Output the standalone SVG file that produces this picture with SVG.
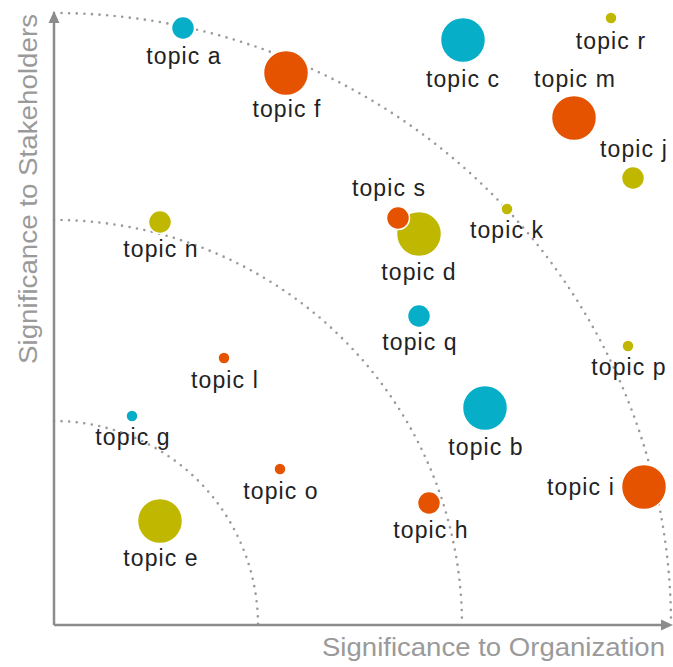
<svg xmlns="http://www.w3.org/2000/svg" width="673" height="667" viewBox="0 0 673 667">
<defs>
<style>
.lbl{font-family:"Liberation Sans",Arial,sans-serif;font-size:23px;fill:#222;text-anchor:middle;letter-spacing:1.1px}
.ax{font-family:"Liberation Sans",Arial,sans-serif;font-size:25px;fill:#9a9a9a}
.arc{fill:none;stroke:#9a9a9a;stroke-width:2.6;stroke-linecap:round;stroke-dasharray:0 7.6}
.axis{stroke:#8c8c8c;stroke-width:2.5;fill:none}
.teal{fill:#07aec8;stroke:#fff;stroke-width:1.5}
.org{fill:#e55300;stroke:#fff;stroke-width:1.5}
.olv{fill:#c0b800;stroke:#fff;stroke-width:1.5}
</style>
</defs>
<rect width="673" height="667" fill="#fff"/>
<g id="connectors">
<path class="arc" d="M 54 13 A 617 612 0 0 1 671 625"/>
<path class="arc" d="M 54 220 A 408 405 0 0 1 462 625"/>
<path class="arc" d="M 54 421 A 204 204 0 0 1 258 625"/>
<path class="axis" d="M 54 625 L 54 22 M 54 625 L 664 625"/>
<polygon points="54,11 48.5,23 59.5,23" fill="#8c8c8c"/>
<polygon points="673,625 661,619.5 661,630.5" fill="#8c8c8c"/>
</g>
<g id="axis-x"><text class="ax" x="322" y="656" textLength="343" lengthAdjust="spacingAndGlyphs">Significance to Organization</text></g>
<g id="axis-y"><text class="ax" transform="translate(37,364) rotate(-90)" x="0" y="0" textLength="350" lengthAdjust="spacingAndGlyphs">Significance to Stakeholders</text></g>
<g id="topic-a"><circle class="teal" cx="183" cy="28" r="11.5"/><text class="lbl" x="184" y="64">topic a</text></g>
<g id="topic-f"><circle class="org" cx="286" cy="73" r="22.5"/><text class="lbl" x="287" y="117">topic f</text></g>
<g id="topic-c"><circle class="teal" cx="463" cy="40" r="22.5"/><text class="lbl" x="463" y="87">topic c</text></g>
<g id="topic-r"><circle class="olv" cx="611" cy="18" r="6"/><text class="lbl" x="611" y="49">topic r</text></g>
<g id="topic-m"><circle class="org" cx="574" cy="118" r="22.5"/><text class="lbl" x="575" y="87">topic m</text></g>
<g id="topic-j"><circle class="olv" cx="633" cy="178" r="11.5"/><text class="lbl" x="634" y="157">topic j</text></g>
<g id="topic-d"><circle class="olv" cx="419" cy="234" r="22.5"/><text class="lbl" x="419" y="280">topic d</text></g>
<g id="topic-s"><circle class="org" cx="398" cy="218" r="11.5"/><text class="lbl" x="389" y="196">topic s</text></g>
<g id="topic-k"><circle class="olv" cx="507" cy="209" r="6"/><text class="lbl" x="507" y="238">topic k</text></g>
<g id="topic-n"><circle class="olv" cx="160" cy="222" r="11.5"/><text class="lbl" x="161" y="257">topic n</text></g>
<g id="topic-q"><circle class="teal" cx="419" cy="316" r="11.5"/><text class="lbl" x="420" y="350">topic q</text></g>
<g id="topic-l"><circle class="org" cx="224" cy="358" r="6"/><text class="lbl" x="225" y="388">topic l</text></g>
<g id="topic-p"><circle class="olv" cx="628" cy="346" r="6"/><text class="lbl" x="629" y="375">topic p</text></g>
<g id="topic-b"><circle class="teal" cx="485" cy="408" r="22.5"/><text class="lbl" x="486" y="455">topic b</text></g>
<g id="topic-g"><circle class="teal" cx="132" cy="416" r="6"/><text class="lbl" x="133" y="445">topic g</text></g>
<g id="topic-o"><circle class="org" cx="280" cy="469" r="6"/><text class="lbl" x="281" y="499">topic o</text></g>
<g id="topic-i"><circle class="org" cx="644" cy="487" r="22.5"/><text class="lbl" x="581" y="495">topic i</text></g>
<g id="topic-h"><circle class="org" cx="429" cy="503" r="11.5"/><text class="lbl" x="431" y="538">topic h</text></g>
<g id="topic-e"><circle class="olv" cx="160" cy="521" r="22.5"/><text class="lbl" x="161" y="566">topic e</text></g>
</svg>
